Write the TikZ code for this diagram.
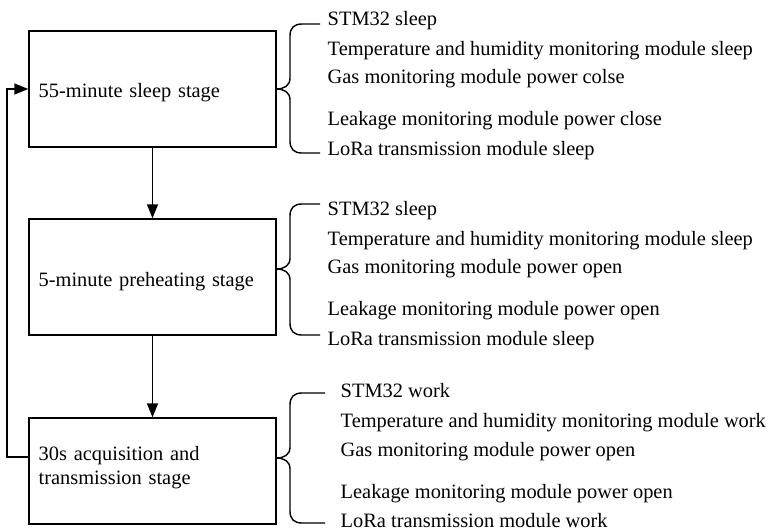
\documentclass[tikz,border=0pt]{standalone}
\usepackage{fontspec}
\setmainfont{Liberation Serif}
\usetikzlibrary{arrows.meta}
\newcommand\stagebrace[4]{% tip y, top y, bottom y, end x
  \draw[brc] (#4,#2) -- (302,#2) .. controls (294,#2) and (290,#2+4) .. (290,#2+12)
    -- (290,#1-11) .. controls (290,#1-3) and (284,#1) .. (276,#1)
    .. controls (284,#1) and (290,#1+3) .. (290,#1+11)
    -- (290,#3-12) .. controls (290,#3-4) and (294,#3) .. (302,#3) -- (#4,#3);}
\begin{document}
\begin{tikzpicture}[x=1pt,y=-1pt,
  line width=1.4pt,
  every node/.style={font=\fontsize{20.4}{23.6}\selectfont},
  stagebox/.style={draw, minimum width=247pt},
  boxtext/.style={anchor=base west, inner sep=0pt, text width=230pt, align=left},
  item/.style={anchor=base west, inner sep=0pt},
  arr/.style={-{Triangle[length=14pt,width=11pt]}},
  brc/.style={line width=1.4pt}]
\useasboundingbox (0,0) rectangle (771,531);
\node[stagebox, minimum height=116pt] (b1) at (152.5,89) {};
\node[stagebox, minimum height=116pt] (b2) at (152.5,277) {};
\node[stagebox, minimum height=106pt] (b3) at (152.5,471) {};
\node[boxtext] (t1) at (38,97) {55-minute sleep stage};
\node[boxtext] (t2) at (38,286) {5-minute preheating stage};
\node[boxtext] (t3) at (38,460.7) {30s acquisition and\\transmission stage};
\draw[arr] (b1.south) -- (b2.north);
\draw[arr] (b2.south) -- (b3.north);
\draw[arr] ([yshift=14pt]b3.west) -- ++(-21.5pt,0) |- (b1.west);
% braces
\stagebrace{89}{24}{153}{320}
\stagebrace{269}{204}{335}{320}
\stagebrace{458}{393}{523}{325}
% items block 1
\node[item] (a1) at (327,25) {STM32 sleep};
\node[item] (a2) at (327,55) {Temperature and humidity monitoring module sleep};
\node[item] (a3) at (327,83) {Gas monitoring module power colse};
\node[item] (a4) at (327,125) {Leakage monitoring module power close};
\node[item] (a5) at (327,155) {LoRa transmission module sleep};
% items block 2
\node[item] (p1) at (327,215) {STM32 sleep};
\node[item] (p2) at (327,245) {Temperature and humidity monitoring module sleep};
\node[item] (p3) at (327,273) {Gas monitoring module power open};
\node[item] (p4) at (327,315) {Leakage monitoring module power open};
\node[item] (p5) at (327,345) {LoRa transmission module sleep};
% items block 3
\node[item] (c1) at (340,397) {STM32 work};
\node[item] (c2) at (340,427) {Temperature and humidity monitoring module work};
\node[item] (c3) at (340,456) {Gas monitoring module power open};
\node[item] (c4) at (340,498) {Leakage monitoring module power open};
\node[item] (c5) at (340,527) {LoRa transmission module work};
\end{tikzpicture}
\end{document}
